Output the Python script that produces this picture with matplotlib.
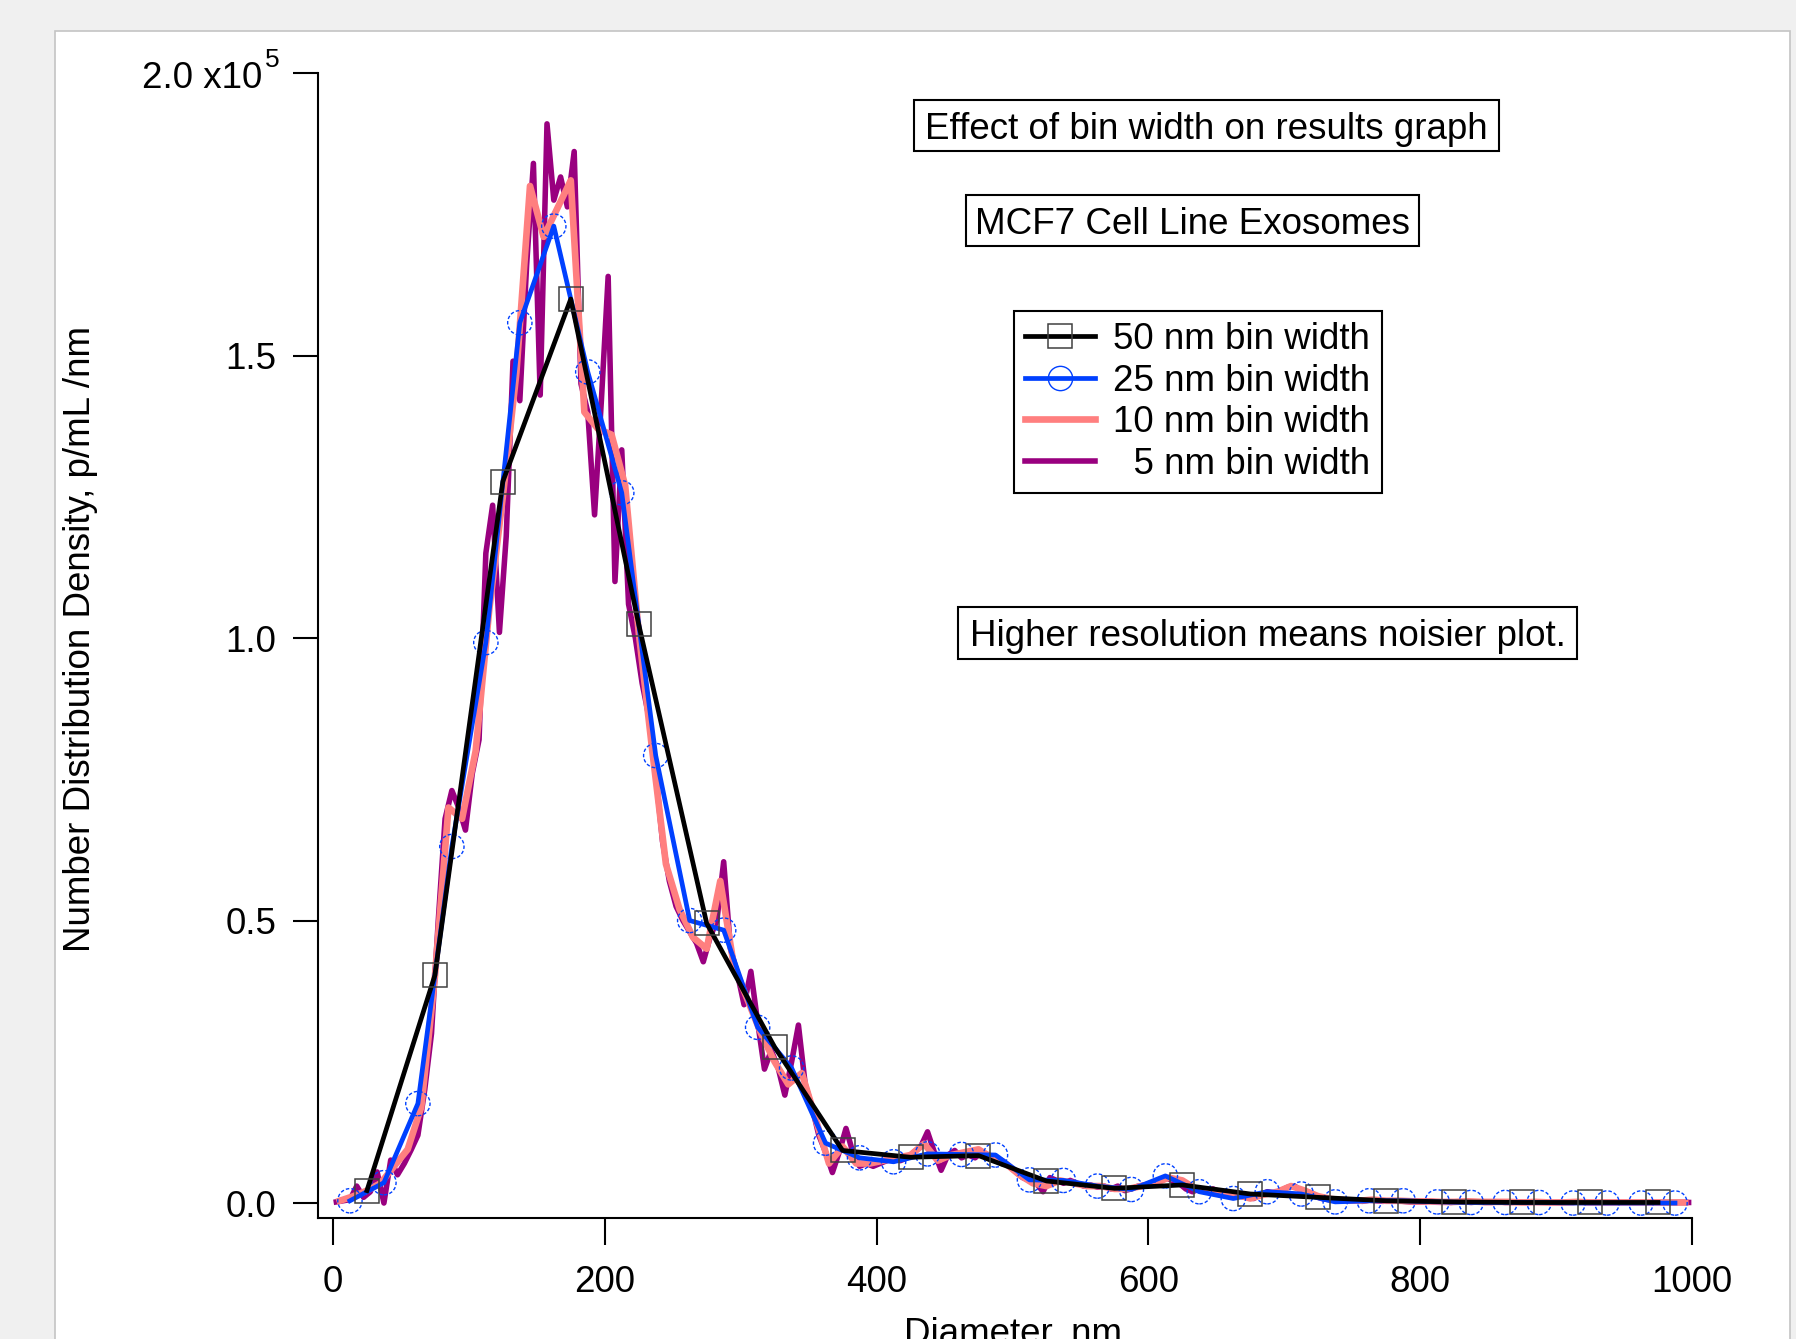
import numpy as np
import matplotlib
matplotlib.use('Agg')
import matplotlib.pyplot as plt
from matplotlib.lines import Line2D
from matplotlib.patches import Rectangle

plt.rcParams['font.family'] = ['Liberation Sans', 'DejaVu Sans']

# number distribution density in units of 1e5 p/mL/nm, bin centres in nm
x50 = np.arange(25, 1000, 50)
y50 = [0.022, 0.403, 1.277, 1.600, 1.024, 0.495, 0.276, 0.093, 0.081, 0.084,
       0.039, 0.026, 0.032, 0.016, 0.010, 0.004, 0.002, 0.001, 0.001, 0.001]

x25 = np.arange(12.5, 1000, 25)
y25 = [0.004, 0.036, 0.176, 0.631, 0.992, 1.558, 1.729, 1.471, 1.257, 0.792,
       0.500, 0.483, 0.311, 0.239, 0.106, 0.080, 0.073, 0.087, 0.086, 0.085,
       0.041, 0.040, 0.030, 0.024, 0.048, 0.020, 0.008, 0.020, 0.016, 0.002,
       0.004, 0.004, 0.002, 0.001, 0.001, 0.001, 0.000, 0.000, 0.000, 0.000]

x10 = np.arange(5, 1000, 10)
y10 = [0.004, 0.012, 0.022, 0.035, 0.065, 0.095, 0.170, 0.400, 0.700, 0.680,
       0.800, 1.050, 1.250, 1.470, 1.800, 1.710, 1.760, 1.810, 1.400, 1.370,
       1.360, 1.270, 1.010, 0.800, 0.600, 0.520, 0.470, 0.450, 0.570, 0.420,
       0.360, 0.300, 0.250, 0.210, 0.230, 0.150, 0.070, 0.100, 0.070, 0.070,
       0.075, 0.080, 0.085, 0.105, 0.075, 0.085, 0.090, 0.095, 0.080, 0.070,
       0.050, 0.035, 0.030, 0.040, 0.035, 0.030, 0.030, 0.025, 0.025, 0.030,
       0.035, 0.045, 0.040, 0.025, 0.020, 0.020, 0.015, 0.008, 0.015, 0.020,
       0.030, 0.022, 0.012, 0.007, 0.005, 0.004, 0.006, 0.004, 0.004, 0.003,
       0.003, 0.002, 0.002, 0.003, 0.002, 0.002, 0.002, 0.001, 0.002, 0.001,
       0.001, 0.002, 0.001, 0.001, 0.001, 0.001, 0.001, 0.001, 0.001, 0.001]

x5 = np.arange(2.5, 1000, 5)
y5 = [0.002, 0.004, 0.006, 0.030, 0.010, 0.020, 0.055, 0.000, 0.076, 0.050,
      0.070, 0.094, 0.120, 0.200, 0.300, 0.500, 0.680, 0.730, 0.700, 0.660,
      0.760, 0.820, 1.150, 1.235, 1.010, 1.180, 1.490, 1.420, 1.660, 1.840,
      1.430, 1.910, 1.775, 1.816, 1.763, 1.861, 1.450, 1.400, 1.218, 1.420,
      1.640, 1.100, 1.333, 1.060, 1.000, 0.920, 0.860, 0.760, 0.640, 0.570,
      0.525, 0.500, 0.480, 0.460, 0.427, 0.470, 0.500, 0.604, 0.450, 0.407,
      0.351, 0.410, 0.320, 0.237, 0.270, 0.240, 0.191, 0.250, 0.315, 0.210,
      0.170, 0.120, 0.090, 0.054, 0.090, 0.132, 0.090, 0.065, 0.070, 0.065,
      0.070, 0.075, 0.080, 0.075, 0.080, 0.090, 0.100, 0.126, 0.090, 0.058,
      0.085, 0.093, 0.080, 0.085, 0.080, 0.090, 0.085, 0.080, 0.075, 0.065,
      0.055, 0.045, 0.040, 0.035, 0.020, 0.045, 0.040, 0.035, 0.040, 0.035,
      0.030, 0.032, 0.028, 0.030, 0.025, 0.030, 0.022, 0.025, 0.030, 0.032,
      0.035, 0.040, 0.045, 0.040, 0.035, 0.025, 0.020, 0.025, 0.020, 0.025,
      0.020, 0.018, 0.015, 0.012, 0.010, 0.008, 0.015, 0.020, 0.018, 0.022,
      0.028, 0.030, 0.022, 0.018, 0.012, 0.008, 0.006, 0.004, 0.005, 0.004,
      0.004, 0.003, 0.005, 0.004, 0.003, 0.004, 0.004, 0.003, 0.002, 0.002,
      0.002, 0.003, 0.002, 0.002, 0.001, 0.002, 0.002, 0.001, 0.002, 0.001,
      0.001, 0.002, 0.001, 0.001, 0.002, 0.001, 0.001, 0.001, 0.001, 0.001,
      0.001, 0.001, 0.001, 0.002, 0.001, 0.001, 0.001, 0.001, 0.001, 0.001,
      0.001, 0.001, 0.001, 0.001, 0.001, 0.001, 0.001, 0.001, 0.001, 0.001]

labels = ['50 nm bin width', '25 nm bin width', '10 nm bin width', '  5 nm bin width']
ytick_vals = [0.0, 0.5, 1.0, 1.5, 2.0]
ytick_labels = ['0.0', '0.5', '1.0', '1.5', '']

W, H = 1796, 1339
FS = 26.5
blue = '#0040ff'
salmon = '#ff7f7f'
purple = '#99007f'

fig = plt.figure(figsize=(W/100., H/100.), dpi=100, facecolor='#f0f0f0')
# white page panel
fig.patches.append(Rectangle((55./W, -0.01), (1790.-55)/W, 1.01-31./H,
                             transform=fig.transFigure, fc='white',
                             ec='#c4c4c4', lw=1.2, zorder=-5))

ax = fig.add_axes([318./W, 1-1218./H, (1692.-318)/W, (1218.-73)/H])
ax.patch.set_visible(False)

ax.plot(x5, y5, color=purple, lw=4.0, zorder=2)
ax.plot(x10, y10, color=salmon, lw=4.8, zorder=3)
ax.plot(x25, y25, color=blue, lw=3.4, zorder=4)
ax.scatter(x25, y25, s=17.5**2, facecolors='none', edgecolors=blue,
           linewidths=1.0, linestyle=(0, (2.5, 1.5)), zorder=5)
ax.plot(x50, y50, color='black', lw=3.4, zorder=6)
ax.plot(x50, y50, ls='none', marker='s', ms=17.5, mfc='none', mec='#404040',
        mew=1.1, zorder=7)

ax.set_xlim(-11, 1000)
ax.set_ylim(-0.0265, 2.0)
ax.set_xticks([0, 200, 400, 600, 800, 1000])
ax.set_yticks(ytick_vals)
ax.set_yticklabels(ytick_labels)
for s in ['top', 'right']:
  ax.spines[s].set_visible(False)
for s in ['left', 'bottom']:
  ax.spines[s].set_linewidth(1.5)
ax.tick_params(axis='x', length=19.5, width=1.5, pad=14.5, labelsize=FS)
ax.tick_params(axis='y', length=18, width=1.5, pad=12, labelsize=FS)

# top y label with Igor-style exponent
fig.text(262./W, 1-79./H, '2.0 x10', ha='right', va='center', fontsize=FS)
fig.text(265./W, 1-60./H, '5', ha='left', va='center', fontsize=19)

ax.set_xlabel('Diameter, nm', fontsize=FS)
ax.xaxis.set_label_coords(0.506, -0.086)
ax.set_ylabel('Number Distribution Density, p/mL /nm', fontsize=FS)
ax.yaxis.set_label_coords(-0.16, 0.506)

handles = [
  Line2D([], [], color='black', lw=3.4, marker='s', ms=17.5, mfc='none', mec='#404040', mew=1.1),
  Line2D([], [], color=blue, lw=3.4, marker='o', ms=17.5, mfc='none', mec=blue, mew=1.0),
  Line2D([], [], color=salmon, lw=4.8),
  Line2D([], [], color=purple, lw=4.0),
]
leg = ax.legend(handles, labels, loc='upper left', bbox_to_anchor=(1014./W, 1-311./H),
                bbox_transform=fig.transFigure, borderaxespad=0, fancybox=False,
                framealpha=1, edgecolor='black', fontsize=FS, handlelength=1.9,
                handletextpad=0.5, labelspacing=0.18, borderpad=0.3)
leg.get_frame().set_linewidth(1.5)


def boxed(text, x0, y0, x1, y1):
  fig.patches.append(Rectangle((x0/W, 1-y1/H), (x1-x0)/W, (y1-y0)/H,
                               transform=fig.transFigure, fc='white',
                               ec='black', lw=1.5, zorder=1))
  fig.text((x0+x1)/2./W, 1-((y0+y1)/2.+4)/H, text, ha='center', va='center',
           fontsize=FS, zorder=3)

boxed('Effect of bin width on results graph', 914., 100., 1499., 151.)
boxed('MCF7 Cell Line Exosomes', 966., 195., 1419., 246.)
boxed('Higher resolution means noisier plot.', 958., 607., 1577., 659.)

fig.savefig('out.png', dpi=100, facecolor=fig.get_facecolor())
